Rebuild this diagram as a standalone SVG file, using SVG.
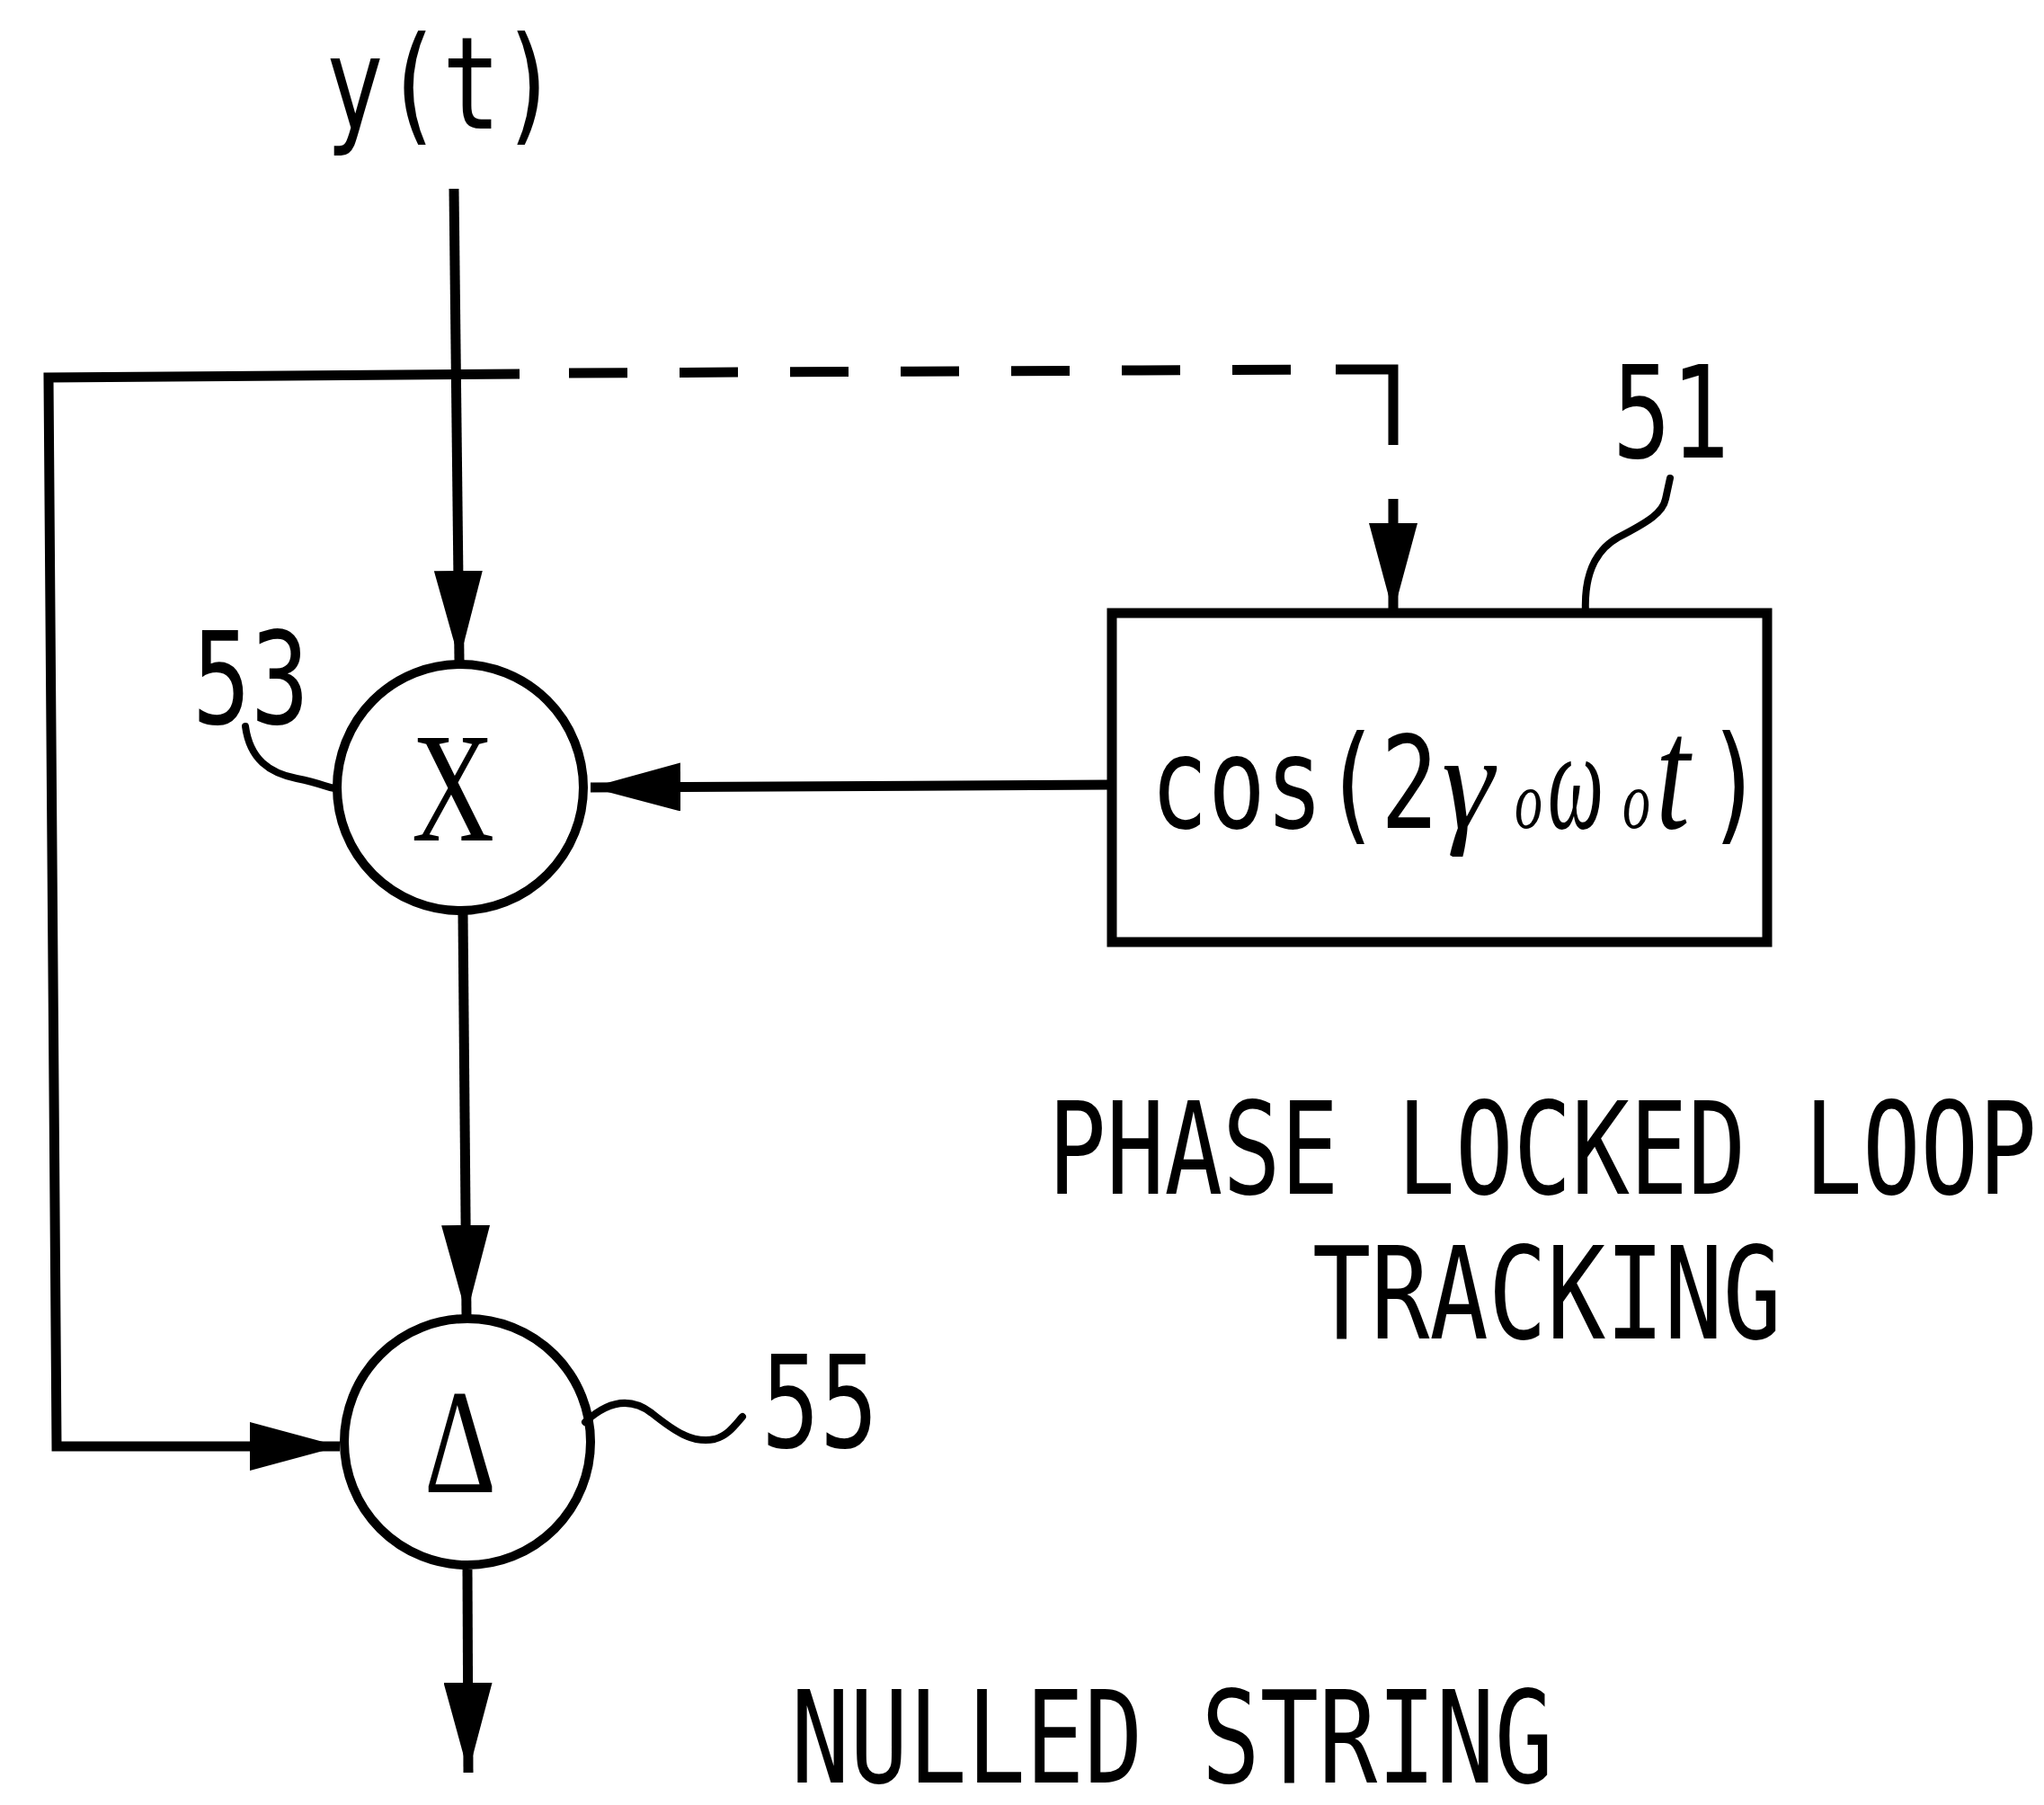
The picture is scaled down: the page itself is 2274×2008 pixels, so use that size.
<svg xmlns="http://www.w3.org/2000/svg" width="2274" height="2008" viewBox="0 0 2274 2008">
<style>
.ln{fill:none;stroke:#000;stroke-width:11;stroke-linecap:butt;stroke-linejoin:miter}
.lead{fill:none;stroke:#000;stroke-width:8;stroke-linecap:round}
.node{fill:#fff;stroke:#000;stroke-width:10}
.box{fill:#fff;stroke:#000;stroke-width:11}
.mono{font-family:"DejaVu Sans Mono","Liberation Mono",monospace;font-size:143px;fill:#000}
.serif{font-family:"Liberation Serif","DejaVu Serif",serif;fill:#000}
.it{font-family:"Liberation Serif","DejaVu Serif",serif;font-style:italic;fill:#000}
</style>
<defs>
<marker id="ah" markerUnits="userSpaceOnUse" markerWidth="100" markerHeight="54" viewBox="0 0 100 54" refX="100" refY="27" orient="auto">
<path d="M0,0 L100,27 L0,54 Z" fill="#000"/>
</marker>
</defs>
<rect width="2274" height="2008" fill="#fff"/>
<g id="connectors">
<path class="ln" d="M505,210 L511,735" marker-end="url(#ah)"/>
<path class="ln" d="M578,416 L54,420 L63,1609 L378,1609" marker-end="url(#ah)"/>
<path class="ln" d="M633,415 L1486,411" stroke-dasharray="65 58"/>
<path class="ln" d="M1486,411 L1550,411 L1550,495"/>
<path class="ln" d="M1550,555 L1550,682" marker-end="url(#ah)"/>
<path class="ln" d="M1237,873 L657,876" marker-end="url(#ah)"/>
<path class="ln" d="M515,1017 L519,1463" marker-end="url(#ah)"/>
<path class="ln" d="M520,1746 L521,1972" marker-end="url(#ah)"/>
</g>
<g id="input-label">
<text class="mono" x="362" y="143" textLength="260" lengthAdjust="spacingAndGlyphs">y(t)</text>
</g>
<g id="node-51">
<rect class="box" x="1237" y="682" width="729" height="366"/>
<text class="mono" x="1280" y="921" textLength="320" lengthAdjust="spacingAndGlyphs">cos(2</text>
<text class="it" x="1604" y="921" font-size="150" textLength="58" lengthAdjust="spacingAndGlyphs">γ</text>
<text class="it" x="1685" y="921" font-size="92" textLength="31" lengthAdjust="spacingAndGlyphs">o</text>
<text class="it" x="1722" y="921" font-size="158" textLength="62" lengthAdjust="spacingAndGlyphs">ω</text>
<text class="it" x="1805" y="921" font-size="92" textLength="31" lengthAdjust="spacingAndGlyphs">o</text>
<text class="it" x="1842" y="921" font-size="180" textLength="38" lengthAdjust="spacingAndGlyphs">t</text>
<text class="mono" x="1898" y="921" textLength="64" lengthAdjust="spacingAndGlyphs">)</text>
<path class="lead" d="M1764,682 C1762,640 1775,612 1800,598 C1835,580 1850,570 1853,555 L1858,532"/>
<text class="mono" x="1794" y="509" textLength="130" lengthAdjust="spacingAndGlyphs">51</text>
</g>
<g id="node-53">
<circle class="node" cx="512" cy="876" r="137"/>
<text class="serif" x="458" y="935" font-size="174" textLength="92" lengthAdjust="spacingAndGlyphs">X</text>
<path class="lead" d="M273,808 C278,845 300,860 330,866 S360,875 372,877"/>
<text class="mono" x="214" y="805" textLength="130" lengthAdjust="spacingAndGlyphs">53</text>
</g>
<g id="node-55">
<circle class="node" cx="520" cy="1604" r="137"/>
<text class="serif" x="472" y="1660" font-size="165" textLength="80" lengthAdjust="spacingAndGlyphs">Δ</text>
<path class="lead" d="M651,1582 C675,1560 700,1553 725,1572 C750,1592 770,1606 795,1601 C810,1597 818,1585 826,1576"/>
<text class="mono" x="847" y="1610" textLength="130" lengthAdjust="spacingAndGlyphs">55</text>
</g>
<g id="labels">
<text class="mono" x="1166" y="1328" textLength="1100" lengthAdjust="spacingAndGlyphs">PHASE LOCKED LOOP</text>
<text class="mono" x="1460" y="1489" textLength="522" lengthAdjust="spacingAndGlyphs">TRACKING</text>
<text class="mono" x="880" y="1983" textLength="848" lengthAdjust="spacingAndGlyphs">NULLED STRING</text>
</g>
</svg>
